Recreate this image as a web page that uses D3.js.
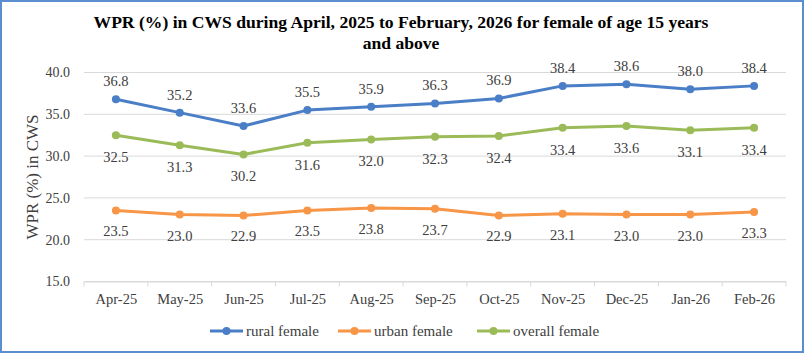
<!DOCTYPE html>
<html><head><meta charset="utf-8">
<script src="https://cdn.jsdelivr.net/npm/d3@7"></script>
<style>html,body{margin:0;padding:0;background:#fff;}svg{display:block;}</style>
</head><body>
<svg id="c" width="805" height="355"></svg>
<script>
const categories = ["Apr-25","May-25","Jun-25","Jul-25","Aug-25","Sep-25","Oct-25","Nov-25","Dec-25","Jan-26","Feb-26"];
const rural = [36.8,35.2,33.6,35.5,35.9,36.3,36.9,38.4,38.6,38.0,38.4];
const urban = [23.5,23.0,22.9,23.5,23.8,23.7,22.9,23.1,23.0,23.0,23.3];
const overall = [32.5,31.3,30.2,31.6,32.0,32.3,32.4,33.4,33.6,33.1,33.4];
const seriesNames = ["rural female","urban female","overall female"];
const yTicks = [15,20,25,30,35,40];
const titleLines = ["WPR (%) in CWS during April, 2025 to February, 2026 for female of age 15 years","and above"];
const yTitle = "WPR (%) in CWS";

const font = "'Liberation Serif','Times New Roman',serif";
const svg = d3.select("#c");
svg.append("rect").attr("x",1).attr("y",1).attr("width",802).attr("height",351)
  .attr("fill","#fff").attr("stroke","#5B8ED0").attr("stroke-width",2);

const x0 = 84, x1 = 786;
const x = d3.scalePoint().domain(categories).range([x0,x1]).padding(0.5);
const y = d3.scaleLinear().domain([15,40]).range([281.5,72.5]);
const step = x.step();

// title
svg.append("g").selectAll("text").data(titleLines).join("text")
  .attr("x",401).attr("y",(d,i)=>28+i*20.5).attr("text-anchor","middle")
  .attr("font-family",font).attr("font-weight","bold").attr("font-size",17.6).attr("fill","#000")
  .text(d=>d);

// gridlines
svg.append("g").selectAll("line").data(yTicks).join("line")
  .attr("x1",x0).attr("x2",x1).attr("y1",d=>y(d)).attr("y2",d=>y(d))
  .attr("stroke","#d9d9d9").attr("stroke-width",1);

// y axis labels
const yAxis = svg.append("g").attr("transform",`translate(${x0},0)`)
  .call(d3.axisLeft(y).tickValues(yTicks).tickFormat(d3.format(".1f")).tickSize(0).tickPadding(14))
  .attr("font-family",font);
yAxis.select(".domain").remove();
yAxis.selectAll("text").attr("font-family",font).attr("font-size",14).attr("fill","#404040");

// x axis
const xAxis = svg.append("g").attr("transform",`translate(0,${y(15)})`)
  .call(d3.axisBottom(x).tickSize(0).tickPadding(12))
  .attr("font-family",font);
xAxis.select(".domain").attr("stroke","#d9d9d9");
xAxis.selectAll("text").attr("font-family",font).attr("font-size",14.5).attr("fill","#404040");
svg.append("g").selectAll("line").data(d3.range(categories.length+1)).join("line")
  .attr("x1",i=>x0+i*step).attr("x2",i=>x0+i*step)
  .attr("y1",y(15)).attr("y2",y(15)+5).attr("stroke","#d9d9d9");

// y title
svg.append("text").attr("transform",`translate(38,${(y(15)+y(40))/2}) rotate(-90)`)
  .attr("text-anchor","middle").attr("font-family",font).attr("font-size",17).attr("fill","#404040")
  .text(yTitle);

const series = [
  {name:seriesNames[0], values:rural, color:"#4A7EC6", dy:-13},
  {name:seriesNames[1], values:urban, color:"#F79646", dy:26},
  {name:seriesNames[2], values:overall, color:"#9BBB59", dy:27}
];
const line = d3.line().x((d,i)=>x(categories[i])).y(d=>y(d));
series.forEach(s=>{
  const g = svg.append("g");
  g.append("path").attr("d",line(s.values)).attr("fill","none").attr("stroke",s.color)
    .attr("stroke-width",3).attr("stroke-linejoin","round");
  g.selectAll("circle").data(s.values).join("circle")
    .attr("cx",(d,i)=>x(categories[i])).attr("cy",d=>y(d)).attr("r",4).attr("fill",s.color);
  g.selectAll("text").data(s.values).join("text")
    .attr("x",(d,i)=>x(categories[i])).attr("y",d=>y(d)+s.dy)
    .attr("text-anchor","middle").attr("font-family",font).attr("font-size",14.5).attr("fill","#404040")
    .text(d=>d.toFixed(1));
});

// legend
const legX = [210, 338, 477];
const leg = svg.append("g").selectAll("g").data(series).join("g")
  .attr("transform",(d,i)=>`translate(${legX[i]},331)`);
leg.append("line").attr("x1",0).attr("x2",33).attr("stroke",d=>d.color).attr("stroke-width",3);
leg.append("circle").attr("cx",16.5).attr("r",4).attr("fill",d=>d.color);
leg.append("text").attr("x",36).attr("y",5).attr("font-family",font).attr("font-size",15).attr("fill","#404040")
  .text(d=>d.name);
</script>
</body></html>
